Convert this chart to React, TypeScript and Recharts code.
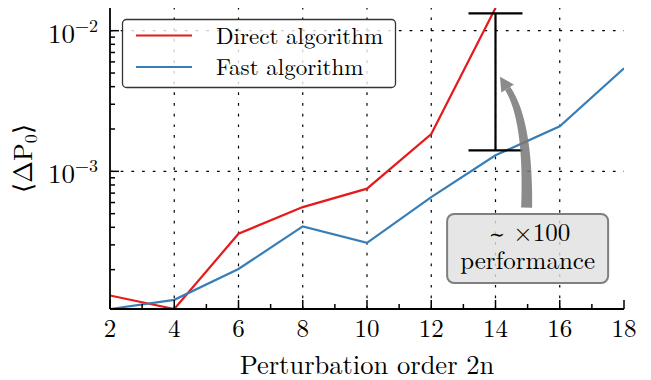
import React from 'react';
import { ComposedChart, Line, XAxis, YAxis, ReferenceLine, Scatter, ErrorBar, ReferenceDot } from 'recharts';

const FONT = '"Latin Modern Roman", "Liberation Serif", serif';
const fontStyle = { fontFamily: FONT };

// data
const orders = [2, 4, 6, 8, 10, 12, 14, 16, 18];
const directValues: (number | null)[] = [1.31e-4, 1.05e-4, 3.6e-4, 5.57e-4, 7.53e-4, 1.84e-3, 1.45e-2, null, null];
const fastValues = [1.05e-4, 1.22e-4, 2.02e-4, 4.06e-4, 3.1e-4, 6.56e-4, 1.3e-3, 2.09e-3, 5.4e-3];
const seriesNames = ['Direct algorithm', 'Fast algorithm'];
const seriesColors = ['#e41a1c', '#377eb8'];

// ticks
const xMajorTicks = [2, 4, 6, 8, 10, 12, 14, 16, 18];
const xMinorTicks = [3, 5, 7, 9, 11, 13, 15, 17];
const yMajorTicks = [1e-3, 1e-2];
const yMinorTicks = [2e-4, 3e-4, 4e-4, 5e-4, 6e-4, 7e-4, 8e-4, 9e-4, 2e-3, 3e-3, 4e-3, 5e-3, 6e-3, 7e-3, 8e-3, 9e-3];
const xDomain = [2, 18];
const yDomain = [1.05e-4, 1.45e-2];

// error bar annotation
const errX = 14;
const errLow = 1.41e-3;
const errHigh = 1.33e-2;
const errorData = [{ order: errX, low: errLow, err: [0, errHigh - errLow] }];

// text annotation
const noteX = 15;
const noteY = 2.85e-4;
const noteTilde = '\u223C';
const noteLines = ['\u00D7100', 'performance'];

const chartData = orders.map((o, i) => ({ order: o, direct: directValues[i], fast: fastValues[i] }));
const xTicks = [...xMajorTicks, ...xMinorTicks].sort((a, b) => a - b);
const yTicks = [...yMajorTicks, ...yMinorTicks].sort((a, b) => a - b);

const isMajorX = (v: number) => xMajorTicks.some((t) => Math.abs(t - v) < 1e-9);
const isMajorY = (v: number) => yMajorTicks.some((t) => Math.abs(Math.log10(t) - Math.log10(v)) < 1e-6);

const MAJ = 9;
const MIN = 5;
const TW = 1.5;

const XTickBottom = (props: any) => {
  const { x, y, payload } = props;
  const major = isMajorX(payload.value);
  return (
    <g>
      <line x1={x} x2={x} y1={y} y2={y - (major ? MAJ : MIN)} stroke="#000" strokeWidth={TW} />
      {major && (
        <text x={x} y={y + 28} textAnchor="middle" fontSize={25} style={fontStyle} fill="#000">
          {payload.value}
        </text>
      )}
    </g>
  );
};

const XTickTop = (props: any) => {
  const { x, y, payload } = props;
  const major = isMajorX(payload.value);
  return <line x1={x} x2={x} y1={y} y2={y + (major ? MAJ : MIN)} stroke="#000" strokeWidth={TW} />;
};

const YTickLeft = (props: any) => {
  const { x, y, payload } = props;
  const major = isMajorY(payload.value);
  const exp = Math.round(Math.log10(payload.value));
  return (
    <g>
      <line x1={x} x2={x + (major ? MAJ : MIN)} y1={y} y2={y} stroke="#000" strokeWidth={TW} />
      {major && (
        <text x={x - 12} y={y + 12} textAnchor="end" fontSize={27} style={fontStyle} fill="#000">
          <tspan>10</tspan>
          <tspan dy={-11} fontSize={18}>{(exp < 0 ? '\u2212' : '') + Math.abs(exp)}</tspan>
        </text>
      )}
    </g>
  );
};

const YTickRight = (props: any) => {
  const { x, y, payload } = props;
  const major = isMajorY(payload.value);
  return <line x1={x} x2={x - (major ? MAJ : MIN)} y1={y} y2={y} stroke="#000" strokeWidth={TW} />;
};

const YLabel = (props: any) => {
  const vb = props.viewBox || { x: 0, y: 8, width: 110, height: 301 };
  const cy = vb.y + vb.height / 2;
  return (
    <text transform={`translate(32, ${cy}) rotate(-90)`} textAnchor="middle" fontSize={26} style={fontStyle} fill="#000">
      <tspan>{'\u27E8\u0394P'}</tspan>
      <tspan fontSize={18} dy={5}>0</tspan>
      <tspan dy={-5}>{'\u27E9'}</tspan>
    </text>
  );
};

const XLabel = (props: any) => {
  const vb = props.viewBox || { x: 110, y: 309, width: 514, height: 71 };
  return (
    <text x={vb.x + vb.width / 2} y={vb.y + 65} textAnchor="middle" fontSize={26.5} style={fontStyle} fill="#000">
      Perturbation order 2n
    </text>
  );
};

// arrow geometry relative to the note anchor
const quad = (p0: number[], p1: number[], p2: number[], t: number) => [
  (1 - t) * (1 - t) * p0[0] + 2 * (1 - t) * t * p1[0] + t * t * p2[0],
  (1 - t) * (1 - t) * p0[1] + 2 * (1 - t) * t * p1[1] + t * t * p2[1],
];

const Note = (props: any) => {
  const { cx, cy } = props;
  if (cx == null || cy == null) return <g />;
  const P0 = [cx - 1, cy - 40.5];
  const P1 = [cx + 1, cy - 127.5];
  const P2 = [cx - 20, cy - 159.5];
  const N = 24;
  const left: number[][] = [];
  const right: number[][] = [];
  for (let i = 0; i <= N; i++) {
    const t = i / N;
    const p = quad(P0, P1, P2, t);
    const dx = 2 * (1 - t) * (P1[0] - P0[0]) + 2 * t * (P2[0] - P1[0]);
    const dy = 2 * (1 - t) * (P1[1] - P0[1]) + 2 * t * (P2[1] - P1[1]);
    const L = Math.hypot(dx, dy);
    const nx = -dy / L;
    const ny = dx / L;
    const hw = 5.5 - 2.5 * t;
    left.push([p[0] + nx * hw, p[1] + ny * hw]);
    right.push([p[0] - nx * hw, p[1] - ny * hw]);
  }
  const dxE = P2[0] - P1[0];
  const dyE = P2[1] - P1[1];
  const LE = Math.hypot(dxE, dyE);
  const ux = dxE / LE;
  const uy = dyE / LE;
  const tip = [P2[0] + ux * 14, P2[1] + uy * 14];
  const hw = 7.5;
  const b1 = [P2[0] - uy * hw, P2[1] + ux * hw];
  const b2 = [P2[0] + uy * hw, P2[1] - ux * hw];
  const body =
    'M' + left.map((p) => p.join(',')).join(' L') +
    ' L' + right.reverse().map((p) => p.join(',')).join(' L') + ' Z';
  const head = `M${b1.join(',')} L${tip.join(',')} L${b2.join(',')} Z`;
  return (
    <g>
      <path d={body} fill="#777777" fillOpacity={0.85} />
      <path d={head} fill="#777777" fillOpacity={0.85} />
      <rect x={cx - 80.5} y={cy - 34} width={161} height={69} rx={7} ry={7} fill="#e0e0e0" fillOpacity={0.82} stroke="#7f7f7f" strokeWidth={2} />
      <text x={cx + 2} y={cy - 7} textAnchor="middle" fontSize={25} style={fontStyle} fill="#000">
        <tspan fontSize={19} fontWeight={300}>{noteTilde}</tspan>
        <tspan>{' ' + noteLines[0]}</tspan>
      </text>
      <text x={cx} y={cy + 20.5} textAnchor="middle" fontSize={25} style={fontStyle} fill="#000">{noteLines[1]}</text>
    </g>
  );
};

const Legend = () => (
  <svg width={651} height={380} style={{ position: 'absolute', left: 0, top: 0, pointerEvents: 'none' }}>
    <rect x={122.5} y={19.5} width={273} height={68} rx={4} ry={4} fill="#ffffff" fillOpacity={0.8} stroke="#333" strokeWidth={1.3} />
    {seriesNames.map((name, i) => (
      <g key={name}>
        <line x1={136} x2={192} y1={35.5 + i * 31.5} y2={35.5 + i * 31.5} stroke={seriesColors[i]} strokeWidth={2.2} />
        <text x={216} y={44 + i * 30.5} fontSize={23} style={fontStyle} fill="#000">{name}</text>
      </g>
    ))}
  </svg>
);

const axisLine = { stroke: '#000', strokeWidth: 1.8 };
const dotted = '2.7 8';

export default function App() {
  return (
    <div style={{ position: 'absolute', left: 0, top: 0, width: 651, height: 380, background: '#fff' }}>
      <ComposedChart width={651} height={380} data={chartData} margin={{ top: 8, right: 27, bottom: 0, left: 0 }}>
        <XAxis
          xAxisId="bottom"
          dataKey="order"
          type="number"
          domain={xDomain}
          ticks={xTicks}
          interval={0}
          height={71}
          tickSize={0}
          tickMargin={0}
          tickLine={false}
          axisLine={axisLine}
          tick={<XTickBottom />}
          allowDataOverflow
          label={<XLabel />}
        />
        <XAxis
          xAxisId="top"
          orientation="top"
          dataKey="order"
          type="number"
          domain={xDomain}
          ticks={xTicks}
          interval={0}
          height={0}
          tickSize={0}
          tickMargin={0}
          tickLine={false}
          axisLine={axisLine}
          tick={<XTickTop />}
          allowDataOverflow
        />
        <YAxis
          yAxisId="left"
          type="number"
          scale="log"
          domain={yDomain}
          ticks={yTicks}
          interval={0}
          width={110}
          tickSize={0}
          tickMargin={0}
          tickLine={false}
          axisLine={axisLine}
          tick={<YTickLeft />}
          allowDataOverflow
          label={<YLabel />}
        />
        <YAxis
          yAxisId="right"
          orientation="right"
          type="number"
          scale="log"
          domain={yDomain}
          ticks={yTicks}
          interval={0}
          width={0}
          tickSize={0}
          tickMargin={0}
          tickLine={false}
          axisLine={axisLine}
          tick={<YTickRight />}
          allowDataOverflow
        />
        <ReferenceDot xAxisId="bottom" yAxisId="left" x={noteX} y={noteY} r={0} ifOverflow="visible" shape={(p: any) => <Note {...p} />} />
        {xMajorTicks.slice(1, -1).map((t) => (
          <ReferenceLine key={'gx' + t} x={t} xAxisId="bottom" yAxisId="left" stroke="#000" strokeWidth={1.2} strokeDasharray={dotted} />
        ))}
        {yMajorTicks.map((t) => (
          <ReferenceLine key={'gy' + t} y={t} xAxisId="bottom" yAxisId="left" stroke="#000" strokeWidth={1.2} strokeDasharray={dotted} />
        ))}
        <Line xAxisId="bottom" yAxisId="left" type="linear" dataKey="direct" name={seriesNames[0]} stroke={seriesColors[0]} strokeWidth={2.2} dot={false} isAnimationActive={false} />
        <Line xAxisId="bottom" yAxisId="left" type="linear" dataKey="fast" name={seriesNames[1]} stroke={seriesColors[1]} strokeWidth={2.2} dot={false} isAnimationActive={false} />
        <Scatter xAxisId="bottom" yAxisId="left" data={errorData} dataKey="low" shape={() => <g />} isAnimationActive={false}>
          <ErrorBar dataKey="err" direction="y" width={27} stroke="#000" strokeWidth={2.2} isAnimationActive={false} />
        </Scatter>
      </ComposedChart>
      <Legend />
    </div>
  );
}
